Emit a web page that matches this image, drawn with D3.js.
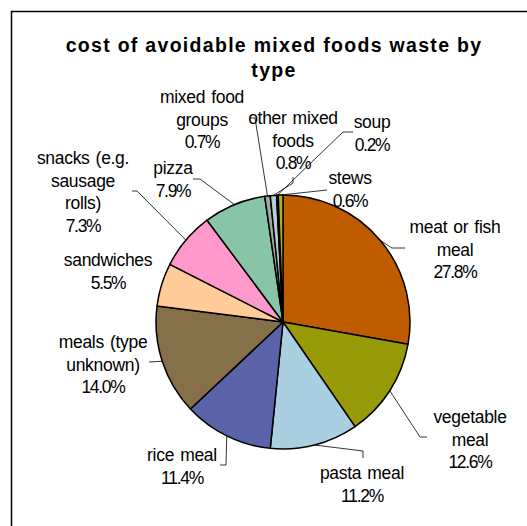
<!DOCTYPE html>
<html><head><meta charset="utf-8">
<script src="https://cdn.jsdelivr.net/npm/d3@7"></script>
<style>
html,body{margin:0;padding:0;background:#fff;}
svg text{font-family:"Liberation Sans",Arial,sans-serif;fill:#000;}
</style></head>
<body><svg id="c" width="527" height="526"></svg>
<script>
const categories = ["meat or fish meal","vegetable meal","pasta meal","rice meal","meals (type unknown)","sandwiches","snacks (e.g. sausage rolls)","pizza","mixed food groups","other mixed foods","soup","stews"];
const values = [27.8,12.6,11.2,11.4,14.0,5.5,7.3,7.9,0.7,0.8,0.2,0.6];
const colors = ["#c05c00","#999a07","#a9cfe1","#5a62a8","#85704a","#ffcc99","#ff99cc","#88c4a8","#9ea8a2","#b4cdd2","#e8e650","#b5ad1e"];
const labelLines = [["meat or fish","meal"],["vegetable","meal"],["pasta meal"],["rice meal"],["meals (type","unknown)"],["sandwiches"],["snacks (e.g.","sausage","rolls)"],["pizza"],["mixed food","groups"],["other mixed","foods"],["soup"],["stews"]];
const titleLines = ["cost of avoidable mixed foods waste by","type"];

// layout (positions only)
const cx = 283, cy = 322, R = 127, LH = 22.5;
const labelPos = [[455,227],[470,417],[362,473],[182,455],[103,342],[108,260],[83,158],[173,168],[202,97],[293,118],[372,122],[350,178]];
const leaders = [[[392,248],[405,248]],[[420,437],[427,437]],[[363,451],[363,458]],[[226,465],[220,465]],[[149,362]],null,[[137,191],[132,191]],[[200,179],[193,179]],[[255,118],[250,118]],[[293,183],[293,177]],[[343,132],[353,132]],[[327,190]]];

const svg = d3.select("#c");
svg.append("rect").attr("x",11.5).attr("y",11.5).attr("width",700).attr("height",700)
  .attr("fill","none").attr("stroke","#000").attr("stroke-width",1.5);

const t = svg.append("text").attr("x",274).attr("text-anchor","middle")
  .style("font-weight","bold").style("font-size","19.5px").style("letter-spacing","1.3px");
titleLines.forEach((l,i)=>t.append("tspan").attr("x",274).attr("y",52+i*25).text(l));

const pie = d3.pie().sort(null).value(d=>d);
const arcs = pie(values);
const arc = d3.arc().innerRadius(0).outerRadius(R);
const edge = d3.arc().innerRadius(R).outerRadius(R);
const g = svg.append("g").attr("transform",`translate(${cx},${cy})`);
g.selectAll("path").data(arcs).join("path")
  .attr("d",arc).attr("fill",(d,i)=>colors[i])
  .attr("stroke","#000").attr("stroke-width",1.5).attr("stroke-linejoin","round");

// leader lines
arcs.forEach((a,i)=>{
  if(!leaders[i]) return;
  const c = edge.centroid(a);
  const pts = [[cx+c[0],cy+c[1]]].concat(leaders[i]);
  svg.append("path").attr("d",d3.line()(pts)).attr("fill","none")
    .attr("stroke","#000").attr("stroke-width",0.8);
});

// labels
const fmt = d3.format(".1f");
arcs.forEach((a,i)=>{
  const [x,y] = labelPos[i];
  const tx = svg.append("text").attr("text-anchor","middle").style("font-size","17.5px")
    .style("letter-spacing","-0.3px").style("word-spacing","1.5px");
  const lines = labelLines[i];
  lines.forEach((l,j)=>tx.append("tspan").attr("x",x).attr("y",y+6+j*LH).text(l));
  tx.append("tspan").attr("x",x).attr("y",y+6+lines.length*LH).style("letter-spacing","-1.3px").text(fmt(values[i])+"%");
});
</script></body></html>
